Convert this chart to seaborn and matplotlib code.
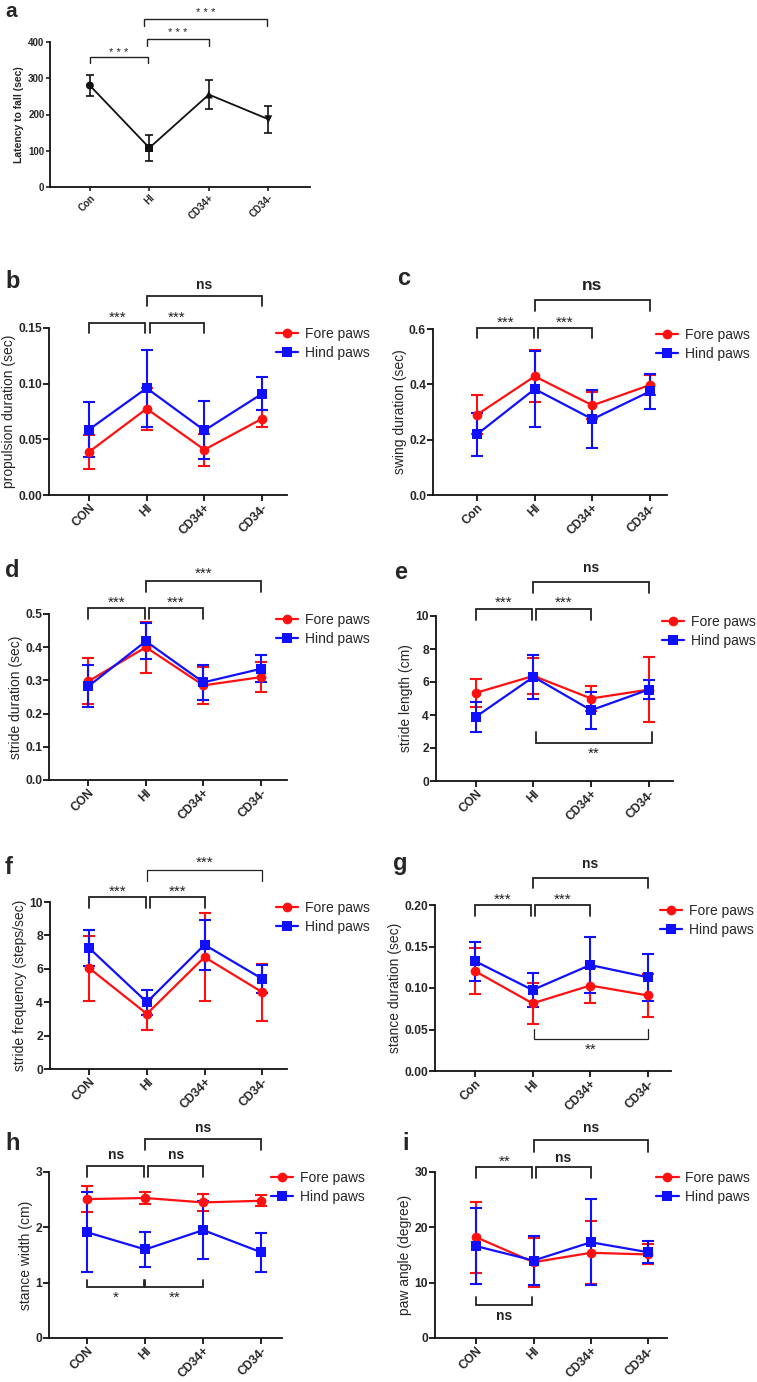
import numpy as np
import pandas as pd
import matplotlib
matplotlib.use("Agg")
import matplotlib.pyplot as plt
import seaborn as sns
from matplotlib.lines import Line2D

sns.set_theme(style="ticks")
plt.rcParams['font.family'] = ['Liberation Sans', 'DejaVu Sans']

# ---------------- data ----------------
groups_a = ["Con", "HI", "CD34+", "CD34-"]
latency_mean = [280, 108, 255, 187]
latency_err = [30, 35, 41, 37]

series = ["Fore paws", "Hind paws"]
labels_upper = ["CON", "HI", "CD34+", "CD34-"]
labels_mixed = ["Con", "HI", "CD34+", "CD34-"]

prop_fore = [0.0386, 0.0775, 0.0407, 0.0686]
prop_fore_err = [0.0155, 0.019, 0.0144, 0.0075]
prop_hind = [0.0587, 0.096, 0.058, 0.091]
prop_hind_err = [0.025, 0.0345, 0.026, 0.015]

swing_fore = [0.290, 0.429, 0.324, 0.398]
swing_fore_err = [0.07, 0.094, 0.05, 0.037]
swing_hind = [0.219, 0.383, 0.274, 0.375]
swing_hind_err = [0.078, 0.136, 0.104, 0.063]

sdur_fore = [0.297, 0.40, 0.285, 0.31]
sdur_fore_err = [0.069, 0.077, 0.056, 0.045]
sdur_hind = [0.282, 0.418, 0.294, 0.335]
sdur_hind_err = [0.063, 0.055, 0.052, 0.04]

slen_fore = [5.34, 6.37, 5.0, 5.54]
slen_fore_err = [0.83, 1.1, 0.76, 1.95]
slen_hind = [3.89, 6.31, 4.29, 5.54]
slen_hind_err = [0.9, 1.33, 1.13, 0.6]

sfreq_fore = [6.04, 3.3, 6.7, 4.6]
sfreq_fore_err = [1.94, 0.96, 2.65, 1.7]
sfreq_hind = [7.24, 4.0, 7.44, 5.4]
sfreq_hind_err = [1.06, 0.74, 1.5, 0.84]

stdur_fore = [0.1205, 0.0815, 0.103, 0.091]
stdur_fore_err = [0.028, 0.025, 0.0205, 0.0257]
stdur_hind = [0.1325, 0.0976, 0.1277, 0.1129]
stdur_hind_err = [0.0235, 0.021, 0.034, 0.028]

stw_fore = [2.51, 2.53, 2.45, 2.48]
stw_fore_err = [0.23, 0.11, 0.15, 0.1]
stw_hind = [1.91, 1.6, 1.95, 1.55]
stw_hind_err = [0.72, 0.31, 0.53, 0.35]

angle_fore = [18.2, 13.7, 15.4, 15.1]
angle_fore_err = [6.4, 4.4, 5.7, 1.8]
angle_hind = [16.6, 14.0, 17.3, 15.5]
angle_hind_err = [6.9, 4.4, 7.8, 2.0]

FW, FH = 757, 1382
fig = plt.figure(figsize=(FW / 100, FH / 100), dpi=100)


def axes_px(left, right, top, bottom):
    return fig.add_axes([left / FW, 1 - bottom / FH, (right - left) / FW, (bottom - top) / FH])


def style_axes(ax, fs):
    sns.despine(ax=ax)
    for s in ["left", "bottom"]:
        ax.spines[s].set_linewidth(1.3)
        ax.spines[s].set_color("#111111")
    ax.tick_params(axis="both", width=1.3, length=4, color="#111111", labelsize=fs, pad=1)
    for t in ax.get_xticklabels() + ax.get_yticklabels():
        t.set_fontweight("bold")
    ax.set_facecolor("none")


def bracket(ax, x1, x2, ybar, ytip, text, ytext, fs=11, lw=1.3, weight="normal"):
    tr = ax.get_xaxis_transform()
    ax.plot([x1, x1, x2, x2], [ytip, ybar, ybar, ytip], color="#222222", lw=lw,
            transform=tr, clip_on=False, solid_joinstyle="miter")
    ax.text((x1 + x2) / 2, ytext, text, transform=tr, ha="center", va="center",
            fontsize=fs, fontweight=weight, color="#222222", clip_on=False)


def panel(ax, labels, fore, fore_err, hind, hind_err, ylim, yticks, ylabel, xlim):
    df = pd.DataFrame({
        "x": list(range(4)) * 2,
        "value": fore + hind,
        "err": fore_err + hind_err,
        "paw": [series[0]] * 4 + [series[1]] * 4,
    })
    pal = {"Fore paws": "#ff1010", "Hind paws": "#1010ff"}
    for name in series:
        sub = df[df.paw == name]
        ax.errorbar(sub.x, sub.value, yerr=sub.err, fmt="none", ecolor=pal[name],
                    elinewidth=1.5, capsize=4, capthick=1.5, zorder=2)
    sns.lineplot(data=df, x="x", y="value", hue="paw", style="paw",
                 markers={"Fore paws": "o", "Hind paws": "s"}, dashes=False,
                 palette=pal, markersize=7, linewidth=1.6, markeredgewidth=0,
                 errorbar=None, ax=ax, legend=False, zorder=3)
    ax.set_xlim(*xlim)
    ax.set_ylim(*ylim)
    ax.set_yticks(yticks)
    ax.set_xticks(range(4))
    ax.set_xticklabels(labels, rotation=45, ha="right", rotation_mode="anchor")
    ax.set_xlabel("")
    ax.set_ylabel(ylabel, fontsize=10, labelpad=1.5)
    style_axes(ax, 8.7)
    handles = [Line2D([], [], color=pal[n], marker=m, markersize=7, lw=1.6, markeredgewidth=0)
               for n, m in zip(series, ["o", "s"])]
    ax.legend(handles, series, loc="upper left", bbox_to_anchor=(0.93, 1.04), frameon=False,
              fontsize=10, handlelength=1.6, handletextpad=0.5, labelspacing=0.35,
              borderaxespad=0)


# ---------------- panel a ----------------
ax = axes_px(50, 310, 42, 187)
dfa = pd.DataFrame({"x": range(4), "value": latency_mean, "err": latency_err, "group": groups_a})
ax.errorbar(dfa.x, dfa.value, yerr=dfa.err, fmt="none", ecolor="#111111",
            elinewidth=1.2, capsize=3, capthick=1.2)
sns.lineplot(data=dfa, x="x", y="value", color="#111111", linewidth=1.3, ax=ax, errorbar=None)
sns.scatterplot(data=dfa, x="x", y="value", style="group",
                markers={"Con": "o", "HI": "s", "CD34+": "^", "CD34-": "v"},
                color="#111111", s=32, linewidth=0, ax=ax, legend=False, zorder=4)
ax.set_xlim(-0.67, 3.7)
ax.set_ylim(0, 400)
ax.set_yticks([0, 100, 200, 300, 400])
ax.set_xticks(range(4))
ax.set_xticklabels(groups_a, rotation=45, ha="right", rotation_mode="anchor")
ax.set_xlabel("")
ax.set_ylabel("Latency to fall (sec)", fontsize=7.5, fontweight="bold", labelpad=3)
style_axes(ax, 7)
ax.tick_params(length=3, width=1.1)
bracket(ax, 0, 0.97, 0.897, 0.855, "* * *", 0.925, fs=8, lw=1.0)
bracket(ax, 0.96, 2, 1.021, 0.972, "* * *", 1.065, fs=8, lw=1.0)
bracket(ax, 0.91, 2.97, 1.159, 1.11, "* * *", 1.2, fs=8, lw=1.0)

# ---------------- panel b ----------------
ax = axes_px(49, 287, 328, 495)
panel(ax, labels_upper, prop_fore, prop_fore_err, prop_hind, prop_hind_err,
      (0, 0.15), [0, 0.05, 0.10, 0.15], "propulsion duration (sec)", (-0.69, 3.43))
bracket(ax, 0, 0.98, 1.03, 0.97, "***", 1.06)
bracket(ax, 1.05, 2, 1.03, 0.97, "***", 1.06)
bracket(ax, 1.0, 3, 1.19, 1.13, "ns", 1.26, fs=10, weight="bold")

# ---------------- panel c ----------------
ax = axes_px(433, 667, 329, 495)
panel(ax, labels_mixed, swing_fore, swing_fore_err, swing_hind, swing_hind_err,
      (0, 0.6), [0, 0.2, 0.4, 0.6], "swing duration (sec)", (-0.76, 3.29))
bracket(ax, 0, 0.98, 1.006, 0.946, "***", 1.035)
bracket(ax, 1.05, 2, 1.006, 0.946, "***", 1.035)
bracket(ax, 1.0, 3, 1.175, 1.108, "ns", 1.26, fs=12.5, weight="bold")

# ---------------- panel d ----------------
ax = axes_px(49, 287, 614, 780)
panel(ax, labels_upper, sdur_fore, sdur_fore_err, sdur_hind, sdur_hind_err,
      (0, 0.5), [0, 0.1, 0.2, 0.3, 0.4, 0.5], "stride duration (sec)", (-0.68, 3.45))
bracket(ax, 0, 0.98, 1.036, 0.97, "***", 1.07)
bracket(ax, 1.05, 2, 1.036, 0.97, "***", 1.07)
bracket(ax, 1.0, 3, 1.2, 1.13, "***", 1.24)

# ---------------- panel e ----------------
ax = axes_px(436, 673, 616, 781)
panel(ax, labels_upper, slen_fore, slen_fore_err, slen_hind, slen_hind_err,
      (0, 10), [0, 2, 4, 6, 8, 10], "stride length (cm)", (-0.69, 3.42))
bracket(ax, 0, 0.98, 1.042, 0.976, "***", 1.08)
bracket(ax, 1.05, 2, 1.042, 0.976, "***", 1.08)
bracket(ax, 1.0, 3, 1.206, 1.14, "ns", 1.29, fs=10, weight="bold")
bracket(ax, 1.05, 3.05, 0.23, 0.297, "**", 0.165)

# ---------------- panel f ----------------
ax = axes_px(50, 287, 902, 1069)
panel(ax, labels_upper, sfreq_fore, sfreq_fore_err, sfreq_hind, sfreq_hind_err,
      (0, 10), [0, 2, 4, 6, 8, 10], "stride frequency (steps/sec)", (-0.68, 3.43))
bracket(ax, 0, 0.98, 1.03, 0.964, "***", 1.06)
bracket(ax, 1.05, 2, 1.03, 0.964, "***", 1.06)
bracket(ax, 1.0, 3, 1.19, 1.126, "***", 1.235, lw=0.9)

# ---------------- panel g ----------------
ax = axes_px(435, 671, 905, 1071)
panel(ax, labels_mixed, stdur_fore, stdur_fore_err, stdur_hind, stdur_hind_err,
      (0, 0.2), [0, 0.05, 0.10, 0.15, 0.20], "stance duration (sec)", (-0.69, 3.4))
bracket(ax, 0, 0.98, 1.0, 0.934, "***", 1.03)
bracket(ax, 1.05, 2, 1.0, 0.934, "***", 1.03)
bracket(ax, 1.0, 3, 1.163, 1.10, "ns", 1.25, fs=10, weight="bold")
bracket(ax, 1.03, 3, 0.193, 0.253, "**", 0.13, lw=0.9)

# ---------------- panel h ----------------
ax = axes_px(49, 282, 1172, 1338)
panel(ax, labels_upper, stw_fore, stw_fore_err, stw_hind, stw_hind_err,
      (0, 3), [0, 1, 2, 3], "stance width (cm)", (-0.66, 3.36))
bracket(ax, 0, 0.98, 1.036, 0.97, "ns", 1.1, fs=10, weight="bold")
bracket(ax, 1.05, 2, 1.036, 0.97, "ns", 1.1, fs=10, weight="bold")
bracket(ax, 1.0, 3, 1.2, 1.13, "ns", 1.265, fs=10, weight="bold")
bracket(ax, 0, 0.98, 0.307, 0.35, "*", 0.245)
bracket(ax, 1.0, 2, 0.307, 0.35, "**", 0.245)

# ---------------- panel i ----------------
ax = axes_px(435, 667, 1172, 1338)
panel(ax, labels_upper, angle_fore, angle_fore_err, angle_hind, angle_hind_err,
      (0, 30), [0, 10, 20, 30], "paw angle (degree)", (-0.72, 3.33))
bracket(ax, 0, 0.98, 1.03, 0.964, "**", 1.06)
bracket(ax, 1.05, 2, 1.03, 0.964, "ns", 1.085, fs=10, weight="bold")
bracket(ax, 1.0, 3, 1.193, 1.12, "ns", 1.265, fs=10, weight="bold")
bracket(ax, 0, 0.98, 0.2, 0.247, "ns", 0.13, fs=10, weight="bold")

# ---------------- panel letters ----------------
letters = [("a", 5, 17, 15), ("b", 5, 288, 17), ("c", 397, 285, 17), ("d", 5, 577, 17),
           ("e", 394, 579, 17), ("f", 5, 874, 17), ("g", 393, 870, 17), ("h", 5, 1150, 17),
           ("i", 402, 1150, 17)]
for s, x, y, fs in letters:
    fig.text(x / FW, 1 - y / FH, s, fontsize=fs, fontweight="bold", va="baseline", ha="left")

fig.savefig("out.png", dpi=100, facecolor="white")
